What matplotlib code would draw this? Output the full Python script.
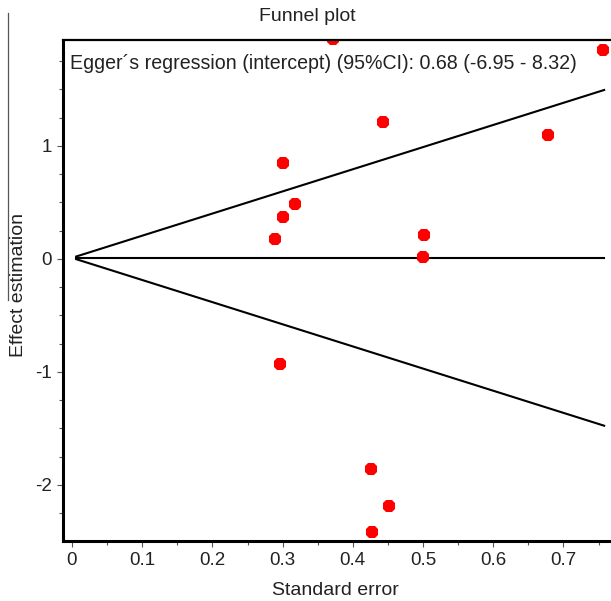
import matplotlib
matplotlib.use("Agg")
import matplotlib.pyplot as plt
from matplotlib.ticker import MultipleLocator
from matplotlib.lines import Line2D

# ---- data ----
standard_error = [0.372, 0.756, 0.443, 0.678, 0.301, 0.318, 0.300, 0.289,
                  0.502, 0.500, 0.297, 0.426, 0.451, 0.428]
effect_estimation = [1.95, 1.85, 1.215, 1.10, 0.85, 0.487, 0.374, 0.18,
                     0.215, 0.02, -0.93, -1.86, -2.19, -2.42]
pooled_effect = 0.01
z_value = 1.96
se_range = [0.006, 0.758]

x_ticks = [0, 0.1, 0.2, 0.3, 0.4, 0.5, 0.6, 0.7]
x_tick_labels = ["0", "0.1", "0.2", "0.3", "0.4", "0.5", "0.6", "0.7"]
y_ticks = [-2, -1, 0, 1]
y_tick_labels = ["-2", "-1", "0", "1"]

title = "Funnel plot"
x_label = "Standard error"
y_label = "Effect estimation"
egger_text = "Egger\u00b4s regression (intercept) (95%CI): 0.68 (-6.95 - 8.32)"

plt.rcParams['font.family'] = ['Liberation Sans', 'DejaVu Sans']

W, H = 611, 601
fig = plt.figure(figsize=(W / 100, H / 100), dpi=100)
left_px, right_px, top_px, bottom_px = 63, 625, 40, 541
ax = fig.add_axes([left_px / W, (H - bottom_px) / H,
                   (right_px - left_px) / W, (bottom_px - top_px) / H])

ax.set_xlim(-0.0128, 0.7877)
ax.set_ylim(-2.496, 1.938)

# funnel lines
upper = [pooled_effect + z_value * s for s in se_range]
lower = [pooled_effect - z_value * s for s in se_range]
ax.plot(se_range, upper, color='black', lw=1.5)
ax.plot(se_range, lower, color='black', lw=1.5)
ax.plot(se_range, [pooled_effect, pooled_effect], color='black', lw=1.5)

# studies
ax.plot(standard_error, effect_estimation, linestyle='none', marker='8',
        markersize=9.5, color='#ff0000', markeredgewidth=0)

# axes styling
ax.spines['left'].set_linewidth(2.2)
ax.spines['bottom'].set_linewidth(2.2)
ax.spines['top'].set_linewidth(1.6)
ax.spines['right'].set_linewidth(1.6)

ax.set_xticks(x_ticks)
ax.set_xticklabels(x_tick_labels)
ax.set_yticks(y_ticks)
ax.set_yticklabels(y_tick_labels)
ax.xaxis.set_minor_locator(MultipleLocator(0.05))
ax.yaxis.set_minor_locator(MultipleLocator(0.25))
ax.tick_params(axis='both', which='major', direction='out', length=4,
               width=0.8, color='#555555', labelsize=13.5, labelcolor='#222222', pad=4)
ax.tick_params(axis='both', which='minor', direction='out', length=3,
               width=0.8, color='#555555')
ax.tick_params(top=False, right=False, which='both')

ax.set_xlabel(x_label, fontsize=14, color='#222222')
ax.xaxis.label.set_va('center')
ax.xaxis.set_label_coords(0.485, -0.098)
ax.set_ylabel(y_label, fontsize=14, color='#222222')
ax.yaxis.label.set_va('center')
ax.yaxis.set_label_coords(-0.080, 0.51)

ax.set_title(title, x=0.434, y=1.046, va='center', pad=0, fontsize=14, color='#222222')

ax.text(0.0125, 0.954, egger_text, transform=ax.transAxes, ha='left', va='center',
        fontsize=14.1, color='#222222')

fig.add_artist(Line2D([8 / W, 8 / W], [1 - 13 / H, 1 - 300 / H],
                      transform=fig.transFigure, color='#555555', lw=0.9))

fig.savefig("out.png", dpi=100)
